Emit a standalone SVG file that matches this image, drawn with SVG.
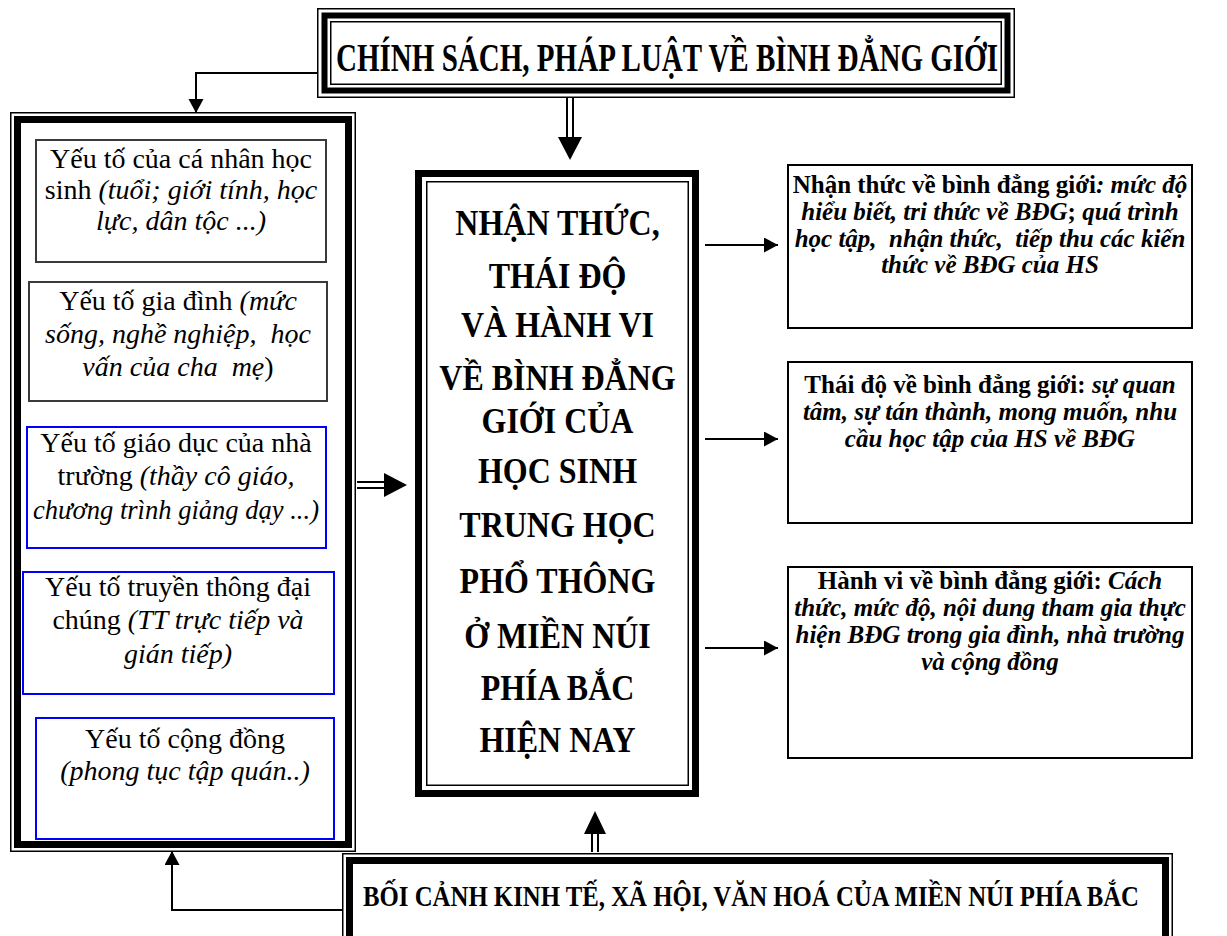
<svg xmlns="http://www.w3.org/2000/svg" width="1227" height="936" viewBox="0 0 1227 936">
<style>
.bg{fill:#fff}
.thin{fill:none;stroke:#000;stroke-width:1.5}
.thick{fill:none;stroke:#000;stroke-width:7}
.box{fill:#fff;stroke:#000;stroke-width:2}
.gbox{fill:#fff;stroke:#3a3a3a;stroke-width:2}
.bbox{fill:#fff;stroke:#0000ff;stroke-width:2}
.t{font-family:"Liberation Serif","Times New Roman",serif;fill:#000}
.lt{font-size:28px;text-anchor:middle}
.ct{font-size:32px;font-weight:bold;text-anchor:middle}
.rt{font-size:25px;font-weight:bold;text-anchor:middle}
.i{font-style:italic}
.n{font-style:normal}
.conn{fill:none;stroke:#000;stroke-width:2}
.dbl{fill:none;stroke:#000;stroke-width:2}
.head{fill:#000}
</style>
<defs>
<marker id="ah" markerUnits="userSpaceOnUse" markerWidth="16" markerHeight="16" refX="14" refY="7.5" orient="auto">
<path d="M0,0 L14,7.5 L0,15 z" fill="#000"/>
</marker>
</defs>
<rect class="bg" x="0" y="0" width="1227" height="936"/>

<g id="connectors">
<path class="conn" d="M317,73 H196 V113" marker-end="url(#ah)"/>
<path class="conn" d="M343,910 H172 V851" marker-end="url(#ah)"/>
<path class="conn" d="M705,245 H778" marker-end="url(#ah)"/>
<path class="conn" d="M705,439 H778" marker-end="url(#ah)"/>
<path class="conn" d="M705,648 H778" marker-end="url(#ah)"/>
<line class="dbl" x1="567" y1="98" x2="567" y2="139"/>
<line class="dbl" x1="573" y1="98" x2="573" y2="139"/>
<polygon class="head" points="558,137 582,137 570,160"/>
<line class="dbl" x1="357" y1="482" x2="386" y2="482"/>
<line class="dbl" x1="357" y1="488" x2="386" y2="488"/>
<polygon class="head" points="384,473 384,497 407,485"/>
<line class="dbl" x1="592" y1="852" x2="592" y2="832"/>
<line class="dbl" x1="598" y1="852" x2="598" y2="832"/>
<polygon class="head" points="584,834 606,834 595,811"/>
</g>

<g id="policy">
<rect class="bg" x="317" y="8" width="698" height="90"/>
<rect class="thin" x="317.75" y="8.75" width="696.5" height="88.5"/>
<rect class="thick" x="324.5" y="15.5" width="683" height="75" style="stroke-width:6"/>
<rect class="thin" x="330.75" y="21.75" width="670.5" height="62.5"/>
<text class="t" transform="matrix(1,0,0,1.45,336,71)" x="0" y="0" font-size="27.5" font-weight="bold" textLength="662" lengthAdjust="spacingAndGlyphs">CHÍNH SÁCH, PHÁP LUẬT VỀ BÌNH ĐẲNG GIỚI</text>
</g>

<g id="factors">
<rect class="bg" x="10" y="112" width="346" height="740"/>
<rect class="thin" x="10.75" y="112.75" width="344.5" height="738.5"/>
<rect class="thick" x="17.5" y="119.5" width="331" height="725"/>
</g>

<g id="f1">
<rect class="gbox" x="36" y="140" width="290" height="122"/>
<text class="t lt" x="181" y="168">Yếu tố của cá nhân học</text>
<text class="t lt" x="181" y="199">sinh <tspan class="i">(tuổi; giới tính, học</tspan></text>
<text class="t lt i" x="181" y="230">lực, dân tộc ...)</text>
</g>

<g id="f2">
<rect class="gbox" x="29" y="282" width="298" height="119"/>
<text class="t lt" x="178" y="310">Yếu tố gia đình <tspan class="i">(mức</tspan></text>
<text class="t lt i" x="178" y="343" xml:space="preserve">sống, nghề nghiệp,  học</text>
<text class="t lt" x="178" y="376" xml:space="preserve"><tspan class="i">vấn của cha  mẹ</tspan>)</text>
</g>

<g id="f3">
<rect class="bbox" x="27" y="427" width="299" height="121"/>
<text class="t lt" x="176" y="452">Yếu tố giáo dục của nhà</text>
<text class="t lt" x="176" y="485">trường <tspan class="i">(thầy cô giáo,</tspan></text>
<text class="t lt i" x="176" y="519" textLength="286" lengthAdjust="spacingAndGlyphs">chương trình giảng dạy ...)</text>
</g>

<g id="f4">
<rect class="bbox" x="23" y="572" width="311" height="122"/>
<text class="t lt" x="178" y="596">Yếu tố truyền thông đại</text>
<text class="t lt" x="178" y="629">chúng <tspan class="i">(TT trực tiếp và</tspan></text>
<text class="t lt i" x="178" y="663">gián tiếp)</text>
</g>

<g id="f5">
<rect class="bbox" x="36" y="718" width="298" height="121"/>
<text class="t lt" x="185" y="748">Yếu tố cộng đồng</text>
<text class="t lt i" x="185" y="780">(phong tục tập quán..)</text>
</g>

<g id="center">
<rect class="bg" x="415" y="170" width="285" height="627"/>
<rect class="thick" x="418.5" y="173.5" width="277" height="620"/>
<rect class="thin" x="426.75" y="181.75" width="261.5" height="603.5"/>
<text class="t ct" transform="matrix(1,0,0,1.15,557.5,235)">NHẬN THỨC,</text>
<text class="t ct" transform="matrix(1,0,0,1.15,557.5,288)">THÁI ĐỘ</text>
<text class="t ct" transform="matrix(1,0,0,1.15,557.5,337)">VÀ HÀNH VI</text>
<text class="t ct" transform="matrix(1,0,0,1.15,557.5,390)">VỀ BÌNH ĐẲNG</text>
<text class="t ct" transform="matrix(1,0,0,1.15,557.5,433)">GIỚI CỦA</text>
<text class="t ct" transform="matrix(1,0,0,1.15,557.5,483)">HỌC SINH</text>
<text class="t ct" transform="matrix(1,0,0,1.15,557.5,537)">TRUNG HỌC</text>
<text class="t ct" transform="matrix(1,0,0,1.15,557.5,593)">PHỔ THÔNG</text>
<text class="t ct" transform="matrix(1,0,0,1.15,557.5,648)">Ở MIỀN NÚI</text>
<text class="t ct" transform="matrix(1,0,0,1.15,557.5,700)">PHÍA BẮC</text>
<text class="t ct" transform="matrix(1,0,0,1.15,557.5,752)">HIỆN NAY</text>
</g>

<g id="awareness">
<rect class="box" x="788" y="165" width="404" height="163"/>
<text class="t rt" x="990" y="193">Nhận thức về bình đẳng giới<tspan class="i">: mức độ</tspan></text>
<text class="t rt i" x="990" y="220">hiểu biết, tri thức về BĐG<tspan class="n">;</tspan> quá trình</text>
<text class="t rt i" x="990" y="247" xml:space="preserve">học tập,  nhận thức,  tiếp thu các kiến</text>
<text class="t rt i" x="990" y="273">thức về BĐG của HS</text>
</g>

<g id="attitude">
<rect class="box" x="788" y="362" width="404" height="161"/>
<text class="t rt" x="990" y="393">Thái độ về bình đẳng giới: <tspan class="i">sự quan</tspan></text>
<text class="t rt i" x="990" y="420">tâm, sự tán thành, mong muốn, nhu</text>
<text class="t rt i" x="990" y="447">cầu học tập của HS về BĐG</text>
</g>

<g id="behavior">
<rect class="box" x="788" y="567" width="404" height="191"/>
<text class="t rt" x="990" y="589">Hành vi về bình đẳng giới: <tspan class="i">Cách</tspan></text>
<text class="t rt i" x="990" y="616">thức, mức độ, nội dung tham gia thực</text>
<text class="t rt i" x="990" y="643">hiện BĐG trong gia đình, nhà trường</text>
<text class="t rt i" x="990" y="670">và cộng đồng</text>
</g>

<g id="context">
<rect class="bg" x="342" y="853" width="831" height="83"/>
<path class="thin" d="M342.75,936 V853.75 H1172.25 V936"/>
<path class="thick" d="M349.5,936 V860.5 H1165.5 V936"/>
<text class="t" transform="matrix(1,0,0,1.23,363,906)" x="0" y="0" font-size="23.5" font-weight="bold" textLength="776" lengthAdjust="spacingAndGlyphs">BỐI CẢNH KINH TẾ, XÃ HỘI, VĂN HOÁ CỦA MIỀN NÚI PHÍA BẮC</text>
</g>
</svg>
